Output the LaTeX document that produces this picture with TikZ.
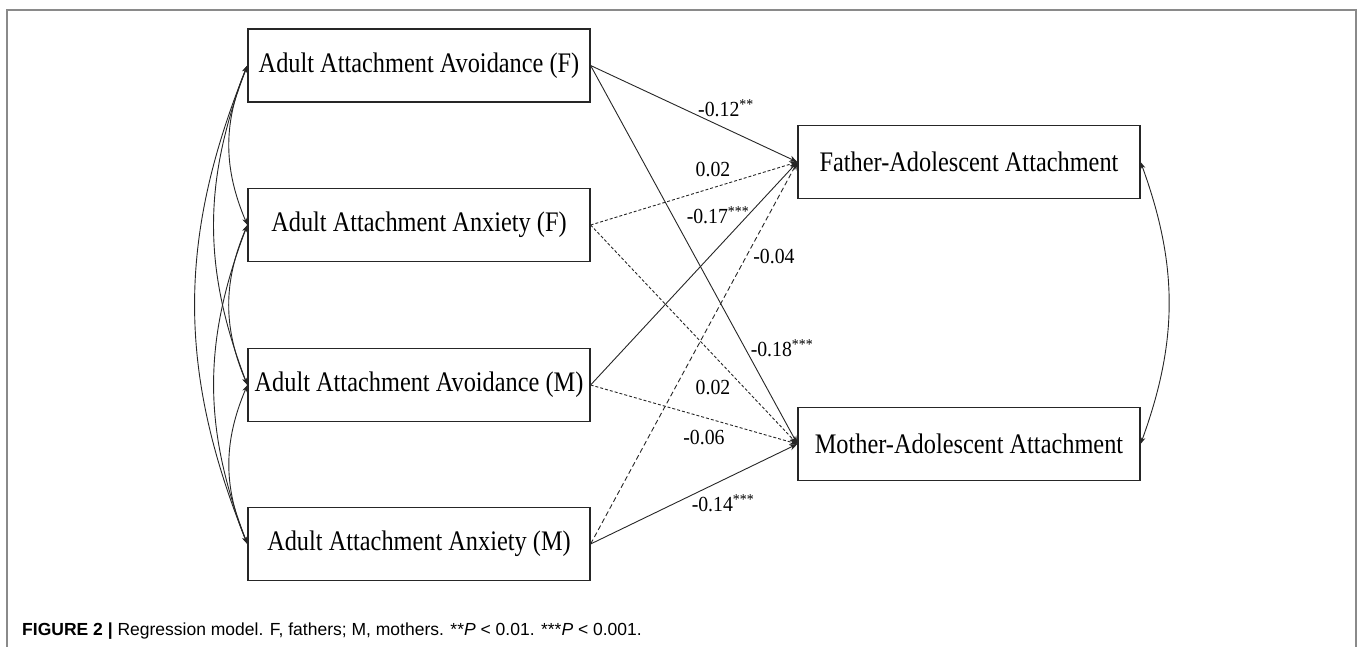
\documentclass[tikz,border=0pt]{standalone}
\usepackage{fontspec}
\setmainfont{Liberation Serif}
\newfontfamily\boxfont[FakeStretch=0.86]{Liberation Serif}
\newfontfamily\coeffont[FakeStretch=0.92]{Liberation Serif}
\newfontfamily\capfont{Liberation Sans}
\usetikzlibrary{arrows.meta}
\definecolor{FrameGray}{HTML}{8A8A8A}
\definecolor{LineGray}{HTML}{262626}

\begin{document}
\begin{tikzpicture}[x=1pt,y=-1pt,
    var/.style={draw=LineGray, line width=1.2pt, minimum width=342pt, minimum height=73pt, inner sep=0pt, font=\boxfont\fontsize{28.3}{30}\selectfont},
    path/.style={draw=LineGray, line width=0.9pt, -{Stealth[length=8pt,width=6pt]}},
    dash1/.style={path, dash pattern=on 3pt off 2pt},
    dash2/.style={path, dash pattern=on 5pt off 3pt},
    cov/.style={draw=LineGray, line width=0.9pt, {Stealth[length=7pt,width=5pt]}-{Stealth[length=7pt,width=5pt]}},
    coef/.style={font=\coeffont\fontsize{21.5}{23}\selectfont, inner sep=0pt}]
    \useasboundingbox (0,0) rectangle (1358,647);

    % Frame
    \draw[FrameGray, line width=2pt] (7,647) -- (7,10) -- (1356,10) -- (1356,647);

    % Predictors
    \node[var] (avf) at (419,65.5) {Adult Attachment Avoidance (F)};
    \node[var] (anf) at (419,225) {Adult Attachment Anxiety (F)};
    \node[var] (avm) at (419,385) {Adult Attachment Avoidance (M)};
    \node[var] (anm) at (419,544) {Adult Attachment Anxiety (M)};

    % Outcomes
    \node[var] (fat) at (969,162) {Father-Adolescent Attachment};
    \node[var] (mot) at (969,444) {Mother-Adolescent Attachment};

    % Paths
    \draw[path] (avf.east) -- (fat.west);
    \draw[path] (avf.east) -- (mot.west);
    \draw[dash1] (anf.east) -- (fat.west);
    \draw[dash1] (anf.east) -- (mot.west);
    \draw[path] (avm.east) -- (fat.west);
    \draw[dash1] (avm.east) -- (mot.west);
    \draw[dash2] (anm.east) -- (fat.west);
    \draw[path] (anm.east) -- (mot.west);

    % Coefficients
    \node[coef] (c1) at (726,108) {-0.12\textsuperscript{**}};
    \node[coef] (c2) at (713,170) {0.02};
    \node[coef] (c3) at (718,215) {-0.17\textsuperscript{***}};
    \node[coef] (c4) at (774,257) {-0.04};
    \node[coef] (c5) at (782,348) {-0.18\textsuperscript{***}};
    \node[coef] (c6) at (713,388) {0.02};
    \node[coef] (c7) at (704,438) {-0.06};
    \node[coef] (c8) at (723,503) {-0.14\textsuperscript{***}};

    % Covariances
    \draw[cov] (avf.west) to[bend right=23] (anf.west);
    \draw[cov] (anf.west) to[bend right=23] (avm.west);
    \draw[cov] (avm.west) to[bend right=23] (anm.west);
    \draw[cov] (avf.west) to[bend right=21] (avm.west);
    \draw[cov] (anf.west) to[bend right=21] (anm.west);
    \draw[cov] (avf.west) to[bend right=22] (anm.west);
    \draw[cov] (fat.east) to[bend left=20] (mot.east);

    % Caption
    \node[anchor=west, inner sep=0pt, font=\capfont\fontsize{17.5}{20}\selectfont] (cap) at (22,631)
        {\textbf{FIGURE 2 |} Regression model. F, fathers; M, mothers. **\textit{P} < 0.01. ***\textit{P} < 0.001.};
\end{tikzpicture}
\end{document}
